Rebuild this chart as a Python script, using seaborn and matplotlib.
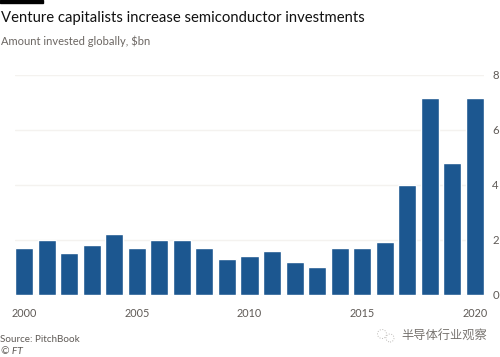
import pandas as pd
import seaborn as sns
import matplotlib.pyplot as plt
from matplotlib.patches import Rectangle, Circle

years = [str(y) for y in range(2000, 2021)]
invested = [1.7, 2.0, 1.5, 1.8, 2.2, 1.7, 2.0, 2.0, 1.7, 1.3, 1.4,
            1.6, 1.2, 1.0, 1.7, 1.7, 1.9, 4.0, 7.15, 4.8, 7.15]
y_ticks = [0, 2, 4, 6, 8]
x_tick_labels = ['2000', '2005', '2010', '2015', '2020']

df = pd.DataFrame({'year': years, 'invested': invested})

W, H = 500, 357
sns.set_style("white")
plt.rcParams['font.family'] = ['Lato', 'Noto Sans CJK SC', 'DejaVu Sans']

fig = plt.figure(figsize=(5, 3.57), dpi=100)
ax = fig.add_axes([15 / W, 1 - 294.5 / H, 469 / W, 219.8 / H])

sns.barplot(x='year', y='invested', data=df, ax=ax, color='#1c5790', width=0.8,
            saturation=1, zorder=3)

ax.set_xlim(-0.4, 20.4)
ax.set_ylim(0, 8)
ax.set_xlabel(None)
ax.set_ylabel(None)
sns.despine(ax=ax, left=True, bottom=True, top=True, right=True)

ax.yaxis.tick_right()
ax.set_yticks(y_ticks)
ax.grid(axis='y', color='#f4f2ef', linewidth=1, zorder=0)
ax.tick_params(axis='y', length=0, pad=6, labelsize=8.2, labelcolor='#5f5a56')
ax.set_xticks([years.index(t) for t in x_tick_labels])
ax.set_xticklabels(x_tick_labels)
ax.tick_params(axis='x', length=0, pad=10, labelsize=7.8, labelcolor='#5f5a56')

# header and footer text
fig.add_artist(Rectangle((0, 1 - 3 / H), 43 / W, 3 / H, color='black', transform=fig.transFigure))
fig.text(1 / W, 1 - 18 / H, 'Venture capitalists increase semiconductor investments',
         fontsize=10.7, color='#111111', va='center')
fig.text(1 / W, 1 - 41 / H, 'Amount invested globally, $bn', fontsize=8.0, color='#6b6662', va='center')
fig.text(0, 1 - 339 / H, 'Source: PitchBook', fontsize=7.1, color='#5f5a56', va='center')
fig.text(1 / W, 1 - 352 / H, '© FT', fontsize=7.4, color='#5f5a56', va='center', style='italic')

# watermark
fig.text(401 / W, 1 - 335 / H, '半导体行业观察', fontsize=8.8, color='#77736f', va='center')
for cx, cy, r in [(382, 334, 4.5), (390, 338, 4)]:
    fig.add_artist(Circle((cx, H - cy), r, fill=False, ec='#bdbab7', lw=0.7, ls=':', transform=None))

plt.savefig('out.png', dpi=100)
plt.close()
